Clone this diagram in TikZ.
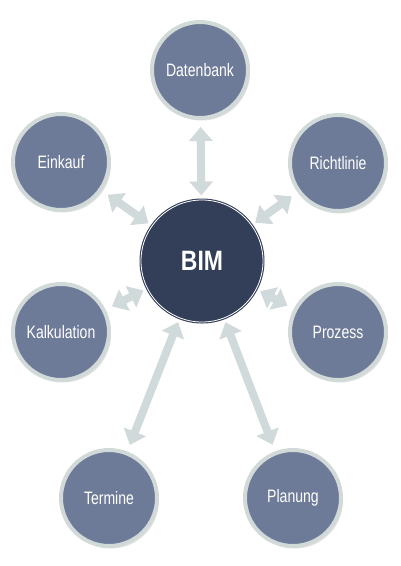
\documentclass[tikz,border=0pt]{standalone}
\usepackage{fontspec}
\usepackage{tikz}
\usetikzlibrary{arrows.meta,shadows}
\newfontfamily\condsans[FakeStretch=0.78]{Liberation Sans}
\newfontfamily\hubsans[FakeStretch=0.82]{Liberation Sans}
\definecolor{slate}{HTML}{6E7B98}
\definecolor{ringgrey}{HTML}{D2D9D9}
\definecolor{linkgrey}{HTML}{D0DADA}
\definecolor{bimdark}{HTML}{333F59}
\tikzset{
  satellite/.style={circle, draw=ringgrey, line width=4pt, fill=slate,
    minimum size=96pt, inner sep=0pt, text=white,
    font=\condsans\fontsize{18}{20}\selectfont,
    drop shadow={opacity=0.22, shadow xshift=2pt, shadow yshift=-2.5pt}},
  hub/.style={circle, draw=bimdark, line width=1.1pt, double=white,
    double distance=0.8pt, fill=bimdark, minimum size=122pt, inner sep=0pt,
    text=white, font=\hubsans\bfseries\fontsize{28}{30}\selectfont},
  link/.style={draw=linkgrey, line width=8pt,
    {Triangle[width=23pt,length=14pt]}-{Triangle[width=23pt,length=14pt]},
    shorten <=7pt, shorten >=4pt}
}
\begin{document}
\begin{tikzpicture}[x=1pt,y=-1pt]
   \useasboundingbox[fill=white] (0,0) rectangle (400,566);
   \path (202,261) node[hub] (BIM) {BIM};
   \path (200,70) node[satellite] (Dat) {Datenbank};
   \path (61,162) node[satellite] (Ein) {Einkauf};
   \path (338,163) node[satellite] (Ric) {Richtlinie};
   \path (61,332) node[satellite] (Kal) {Kalkulation};
   \path (338,332) node[satellite] (Pro) {Prozess};
   \path (109,498) node[satellite] (Ter) {Termine};
   \path (293,498) node[satellite] (Pla) {Planung};
   \foreach \s in {Dat,Ein,Ric,Kal,Pro,Ter,Pla}
     \draw[link] (\s) -- (BIM);
\end{tikzpicture}
\end{document}
